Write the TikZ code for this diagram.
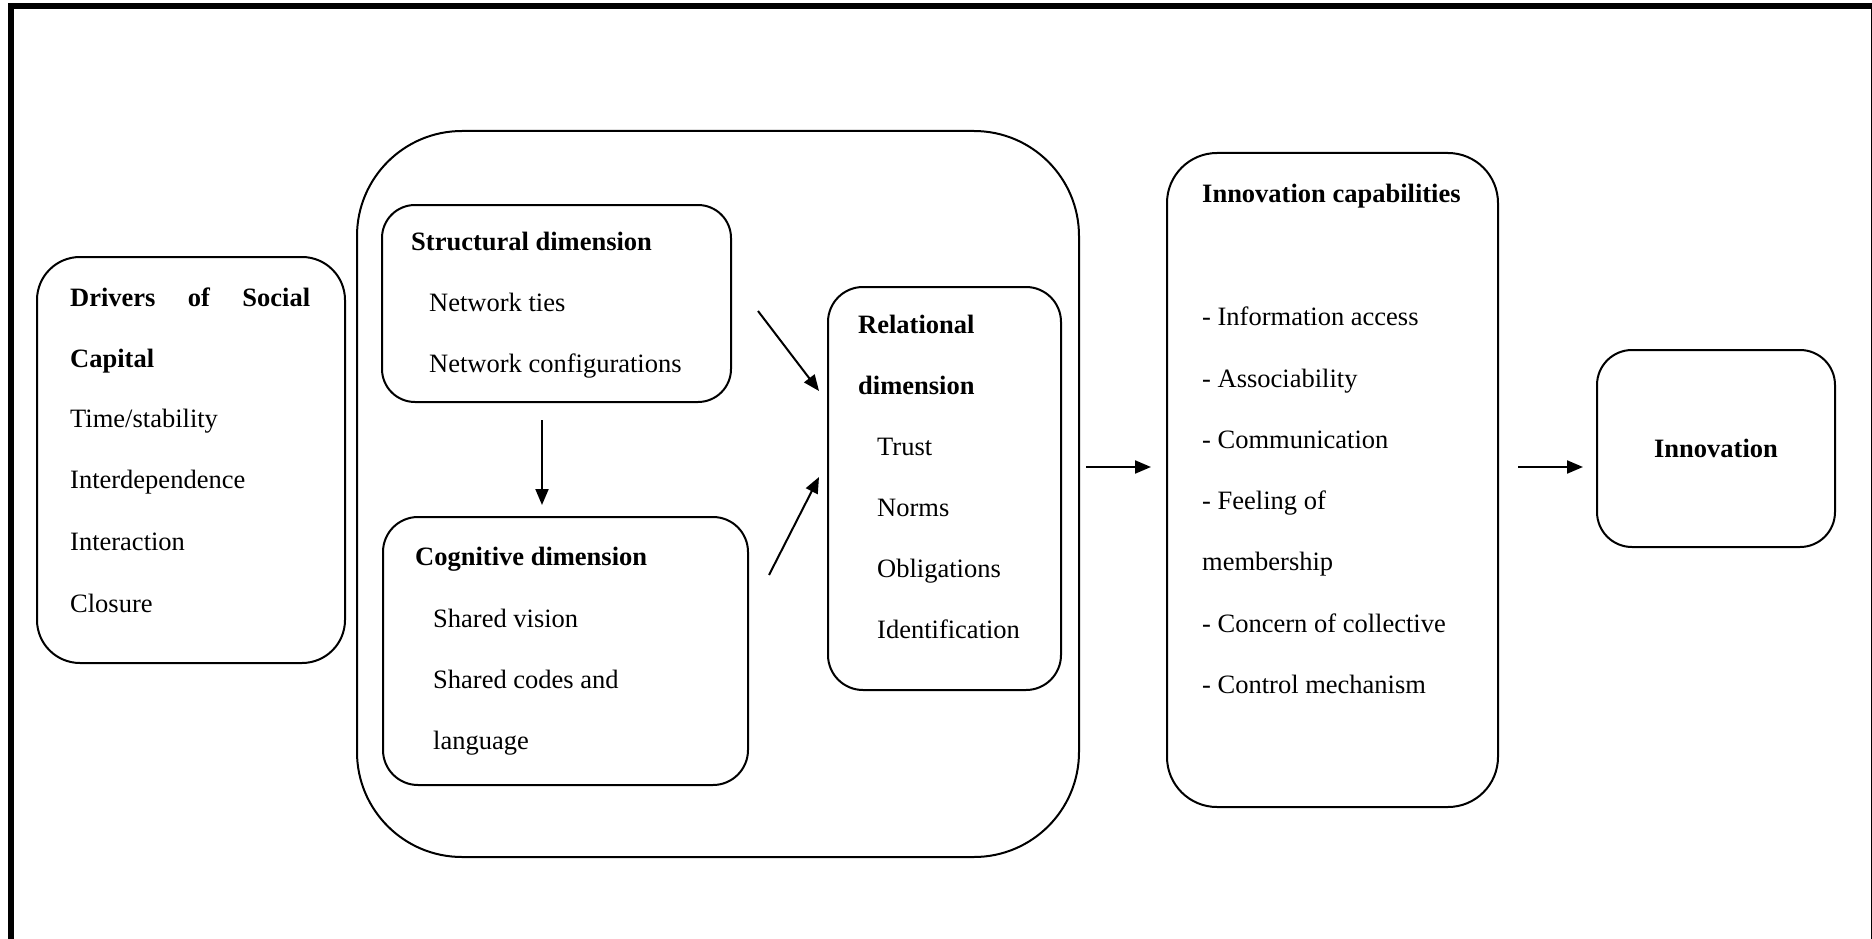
\documentclass[tikz,border=0pt]{standalone}
\usepackage{fontspec}
\setmainfont{Liberation Serif}
\usetikzlibrary{arrows.meta}
\tikzset{
  box/.style={draw, line width=2pt, rectangle, inner sep=0pt},
  txt/.style={anchor=base west, inner sep=0pt, font=\fontsize{26.5}{30}\selectfont},
  ctxt/.style={anchor=base, inner sep=0pt, font=\fontsize{26.5}{30}\selectfont},
  arr/.style={line width=2pt, -{Triangle[length=16pt,width=13pt]}},
  frame/.style={draw, line width=6pt}
}
\begin{document}
\begin{tikzpicture}[x=1pt,y=-1pt]
\useasboundingbox (0,0) rectangle (1872,939);
\draw[frame] (11,6.5) rectangle (1874,960);

% boxes
\node[box, rounded corners=43pt, minimum width=308pt, minimum height=406pt] (drv) at (191,460) {};
\node[box, rounded corners=105pt, minimum width=722pt, minimum height=726pt] (big) at (718,494) {};
\node[box, rounded corners=33pt, minimum width=349pt, minimum height=197pt] (str) at (556.5,303.5) {};
\node[box, rounded corners=35pt, minimum width=365pt, minimum height=268pt] (cog) at (565.5,651) {};
\node[box, rounded corners=35pt, minimum width=233pt, minimum height=403pt] (rel) at (944.5,488.5) {};
\node[box, rounded corners=50pt, minimum width=331pt, minimum height=654pt] (cap) at (1332.5,480) {};
\node[box, rounded corners=35pt, minimum width=238pt, minimum height=197pt] (inn) at (1716,448.5) {};

% drivers text
\node[txt] (d1) at (70,306) {\textbf{\makebox[240pt][s]{Drivers of Social}}};
\node[txt] (d2) at (70,367) {\textbf{Capital}};
\node[txt] (d3) at (70,427) {Time/stability};
\node[txt] (d4) at (70,488) {Interdependence};
\node[txt] (d5) at (70,550) {Interaction};
\node[txt] (d6) at (70,612) {Closure};

% structural
\node[txt] (s1) at (411,250) {\textbf{Structural dimension}};
\node[txt] (s2) at (429,311) {Network ties};
\node[txt] (s3) at (429,372) {Network configurations};

% cognitive
\node[txt] (c1) at (415,565) {\textbf{Cognitive dimension}};
\node[txt] (c2) at (433,627) {Shared vision};
\node[txt] (c3) at (433,688) {Shared codes and};
\node[txt] (c4) at (433,749) {language};

% relational
\node[txt] (r1) at (858,333) {\textbf{Relational}};
\node[txt] (r2) at (858,394) {\textbf{dimension}};
\node[txt] (r3) at (877,455) {Trust};
\node[txt] (r4) at (877,516) {Norms};
\node[txt] (r5) at (877,577) {Obligations};
\node[txt] (r6) at (877,638) {Identification};

% capabilities
\node[txt] (k0) at (1202,203) {\textbf{Innovation capabilities}};
\node[txt] (k1) at (1202,325) {- Information access};
\node[txt] (k2) at (1202,387) {- Associability};
\node[txt] (k3) at (1202,448) {- Communication};
\node[txt] (k4) at (1202,509) {- Feeling of};
\node[txt] (k5) at (1202,570) {membership};
\node[txt] (k6) at (1202,632) {- Concern of collective};
\node[txt] (k7) at (1202,693) {- Control mechanism};

% innovation
\node[ctxt] (i1) at (1716,457) {\textbf{Innovation}};

% arrows
\coordinate (a1s) at (542,420); \coordinate (a1e) at (542,505);
\coordinate (a2s) at (758,311); \coordinate (a2e) at (819,391);
\coordinate (a3s) at (769,575); \coordinate (a3e) at (819,477);
\coordinate (a4s) at (1086,467); \coordinate (a4e) at (1151,467);
\coordinate (a5s) at (1518,467); \coordinate (a5e) at (1583,467);
\draw[arr] (a1s) -- (a1e);
\draw[arr] (a2s) -- (a2e);
\draw[arr] (a3s) -- (a3e);
\draw[arr] (a4s) -- (a4e);
\draw[arr] (a5s) -- (a5e);
\end{tikzpicture}
\end{document}
